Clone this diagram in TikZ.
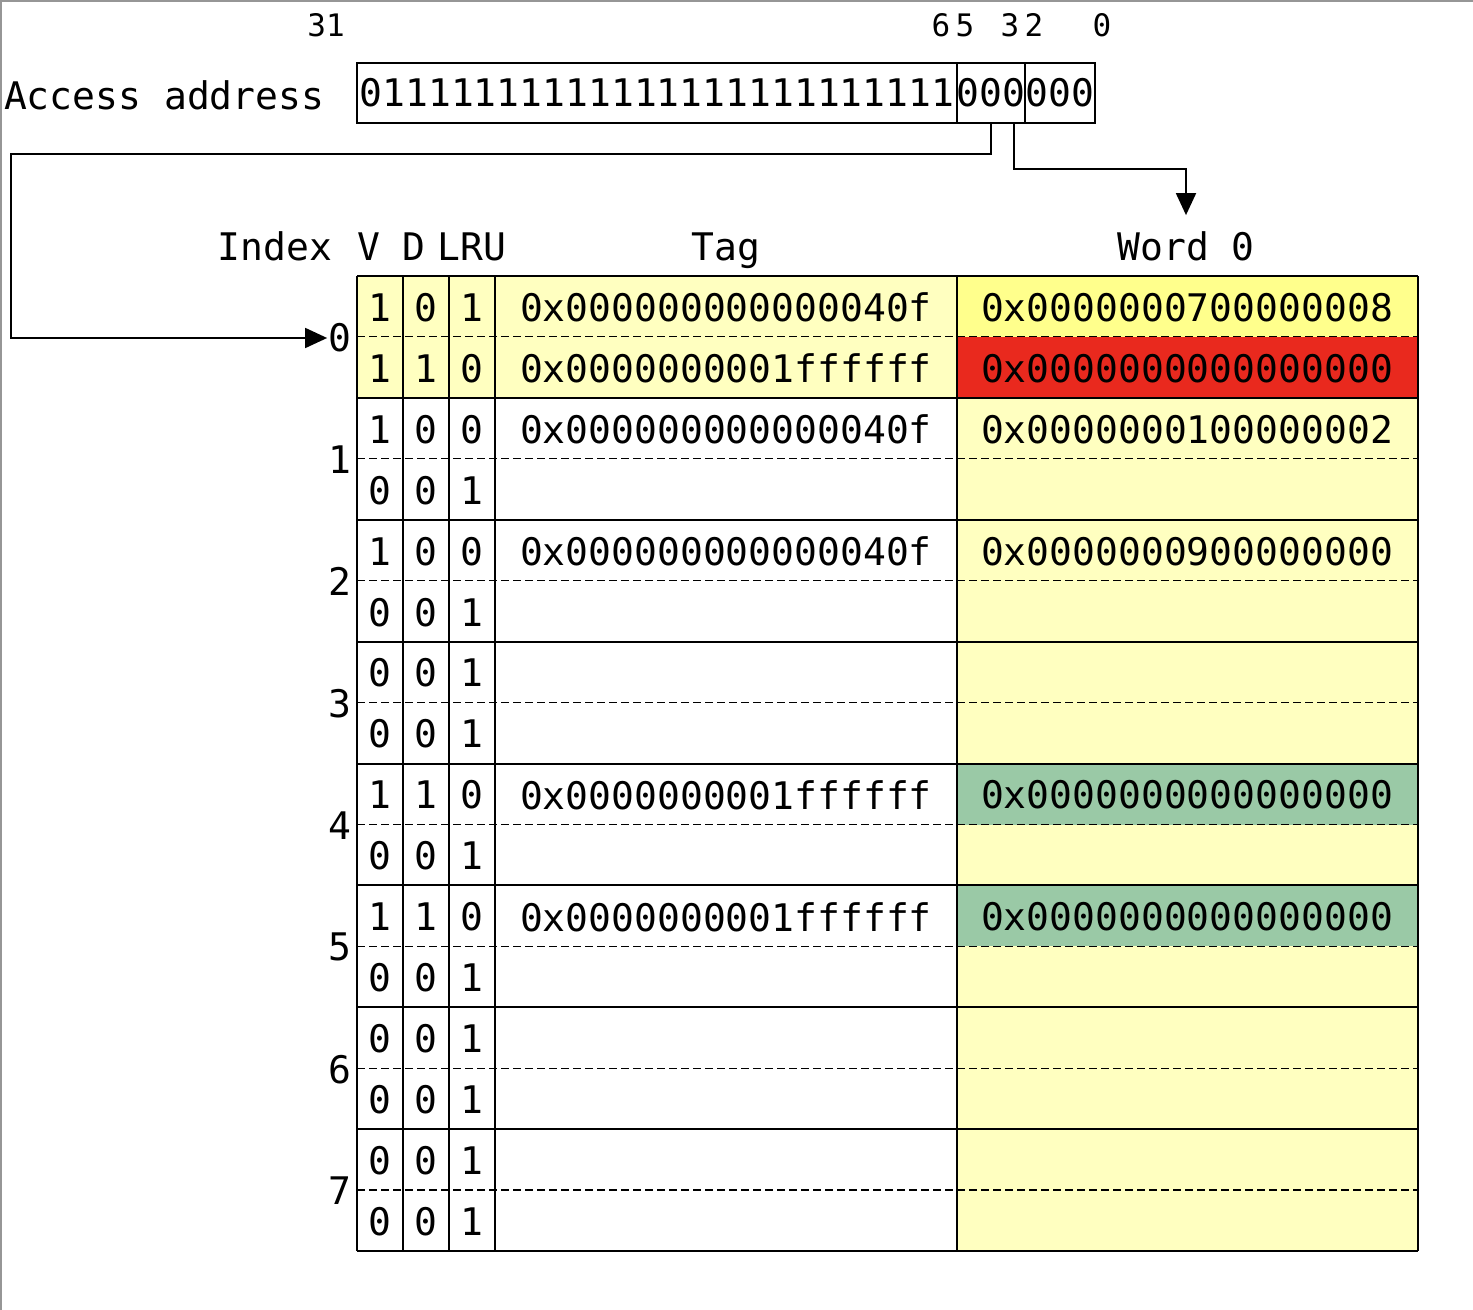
\documentclass[tikz,border=0pt]{standalone}
\usepackage{fontspec}
\setmainfont{DejaVu Sans Mono}
\usetikzlibrary{arrows.meta}
\definecolor{cellyel}{RGB}{255,255,192}
\definecolor{hotyel}{RGB}{255,255,140}
\definecolor{missred}{RGB}{233,41,30}
\definecolor{hitgreen}{RGB}{154,201,166}
\definecolor{edgegray}{RGB}{150,150,150}
\tikzset{every picture/.style={line width=1pt},
  txt/.style={inner sep=0pt,font=\fontsize{19}{22}\selectfont},
  bitno/.style={inner sep=0pt,font=\fontsize{15.5}{18}\selectfont},
  colhead/.style={txt,anchor=base},
  field/.style={draw,inner sep=0pt,minimum height=30pt,font=\fontsize{19}{22}\selectfont},
  wire/.style={line width=0.9pt,-{Triangle[length=11pt,width=10pt]}},
  wayline/.style={line width=0.6pt,dash pattern=on 4pt off 2pt}}
\begin{document}
\begin{tikzpicture}[x=0.5pt,y=0.5pt,yscale=-1]
		\useasboundingbox (0,0) rectangle (1473,1310);
		%Shape: Frame
		\draw [edgegray] (1,1310) -- (1,1) -- (1473,1) ;
		
		% Text Node
		\node [txt,anchor=west] (acc) at (3,95) {Access address};
		%Shape: Address fields
		\node [field,minimum width=300pt] (tagf) at (657,93) {01111111111111111111111111};
		\node [field,minimum width=34pt] (idxf) at (991,93) {000};
		\node [field,minimum width=35pt] (offf) at (1060,93) {000};
		
		% Text Node
		\node [bitno] (b31) at (326,25) {31};
		\node [bitno] (b6) at (941,25) {6};
		\node [bitno] (b5) at (965,25) {5};
		\node [bitno] (b3) at (1010,25) {3};
		\node [bitno] (b2) at (1034,25) {2};
		\node [bitno] (b0) at (1102,25) {0};
		
		% Text Node
		\node [colhead] (hidx) at (275,261) {Index};
		\node [colhead] (hv) at (369,261) {V};
		\node [colhead] (hd) at (414,261) {D};
		\node [colhead] (hlru) at (472,261) {LRU};
		\node [colhead] (htag) at (726,261) {Tag};
		\node [colhead] (whd) at (1186,261) {Word 0};
		
		%Shape: Cell fills
		\fill [cellyel] (957,276) rectangle (1418,1251) ;
		\fill [cellyel] (357,276) rectangle (1418,397.9) ;
		\fill [hotyel] (957,276) rectangle (1418,336.9) ;
		\fill [missred] (957,336.9) rectangle (1418,397.9) ;
		\fill [hitgreen] (957,763.5) rectangle (1418,824.5) ;
		\fill [hitgreen] (957,885.4) rectangle (1418,946.3) ;
		
		%Straight Lines: way separators
		\foreach \s in {0,...,7}
			\draw [wayline] (357,{336.9+121.875*\s}) -- (1418,{336.9+121.875*\s}) ;
		%Straight Lines: set separators
		\foreach \s in {0,...,8}
			\draw (357,{276+121.875*\s}) -- (1418,{276+121.875*\s}) ;
		%Straight Lines: columns
		\foreach \c in {357,403,449,495,957,1418}
			\draw (\c,276) -- (\c,1251) ;
		
		% Text Node: set numbers
		\foreach \s in {0,...,7}
			\node [txt,anchor=east] (s\s) at (352,{338+121.875*\s}) {\s};
		
		% Text Node: lines
		\foreach \v/\d/\l/\t/\w [count=\r from 0] in {
			1/0/1/0x000000000000040f/0x0000000700000008,
			1/1/0/0x0000000001ffffff/0x0000000000000000,
			1/0/0/0x000000000000040f/0x0000000100000002,
			0/0/1/{}/{},
			1/0/0/0x000000000000040f/0x0000000900000000,
			0/0/1/{}/{},
			0/0/1/{}/{},
			0/0/1/{}/{},
			1/1/0/0x0000000001ffffff/0x0000000000000000,
			0/0/1/{}/{},
			1/1/0/0x0000000001ffffff/0x0000000000000000,
			0/0/1/{}/{},
			0/0/1/{}/{},
			0/0/1/{}/{},
			0/0/1/{}/{},
			0/0/1/{}/{}}
		{
			\pgfmathsetmacro\yc{277+60.94*(\r+0.5)}
			\node [txt] (v\r) at (380,\yc) {\v};
			\node [txt] (d\r) at (426,\yc) {\d};
			\node [txt] (l\r) at (472,\yc) {\l};
			\node [txt] (t\r) at (726,\yc) {\t};
			\node [txt] (w\r) at (1187,\yc) {\w};
		}
		
		%Connectors
		\coordinate (lbend) at (11,154);
		\coordinate (otap) at (1014,123);
		\coordinate (rbend) at (1186,169);
		\draw [wire] (idxf.south) |- (lbend) |- (s0.west) ;
		\draw [wire,shorten >=8pt] (otap) |- (rbend) -- (whd.north) ;
		
\end{tikzpicture}
\end{document}
